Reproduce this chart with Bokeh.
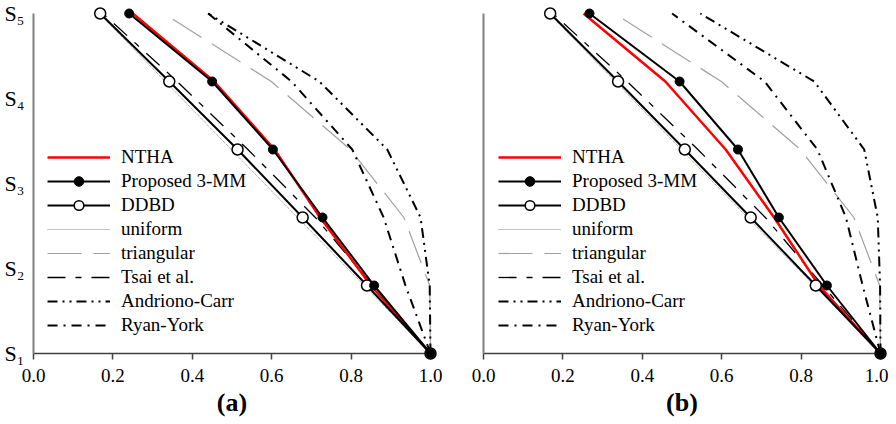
from bokeh.plotting import figure
from bokeh.layouts import row
from bokeh.models import Range1d, FixedTicker, Legend, LegendItem
from bokeh.embed import file_html
from bokeh.resources import INLINE

# ---- data (values listed from S1 at the bottom to the top level) ----
levels = [0, 1, 2, 3, 4, 5]
storey_ticks = [0, 1.25, 2.5, 3.75, 5]
storey_labels = ["S\u2081", "S\u2082", "S\u2083", "S\u2084", "S\u2085"]
x_ticks = [0.0, 0.2, 0.4, 0.6, 0.8, 1.0]
x_tick_labels = ["0.0", "0.2", "0.4", "0.6", "0.8", "1.0"]
panel_labels = ["(a)", "(b)"]
series_names = ["NTHA", "Proposed 3-MM", "DDBD", "uniform", "triangular",
                "Tsai et al.", "Andriono-Carr", "Ryan-York"]

# panel (a)
ntha_a = [1.0, 0.850, 0.722, 0.607, 0.455, 0.250]
prop_a = [1.0, 0.858, 0.728, 0.603, 0.450, 0.241]
ddbd_a = [1.0, 0.840, 0.678, 0.514, 0.342, 0.168]
unif_a = [1.0, 0.833, 0.665, 0.498, 0.332, 0.165]
tri_a = [1.0, 0.998, 0.933, 0.798, 0.599, 0.328]
tsai_a = [1.0, 0.855, 0.710, 0.540, 0.362, 0.175]
andr_a = [1.0, 0.998, 0.975, 0.891, 0.720, 0.440]
ryan_a = [1.0, 0.937, 0.882, 0.803, 0.650, 0.440]

# panel (b)
ntha_b = [1.0, 0.845, 0.732, 0.610, 0.458, 0.252]
prop_b = [1.0, 0.865, 0.744, 0.641, 0.494, 0.267]
ddbd_b = [1.0, 0.837, 0.673, 0.507, 0.339, 0.168]
unif_b = [1.0, 0.833, 0.665, 0.498, 0.332, 0.165]
tri_b = [1.0, 0.998, 0.933, 0.798, 0.599, 0.330]
tsai_b = [1.0, 0.855, 0.710, 0.540, 0.362, 0.175]
andr_b = [1.0, 0.999, 0.993, 0.959, 0.833, 0.546]
ryan_b = [1.0, 0.955, 0.913, 0.841, 0.708, 0.475]

panel_a = [ntha_a, prop_a, ddbd_a, unif_a, tri_a, tsai_a, andr_a, ryan_a]
panel_b = [ntha_b, prop_b, ddbd_b, unif_b, tri_b, tsai_b, andr_b, ryan_b]

# ---- styles ----
FONT = "Liberation Serif"
styles = [
    dict(color="#ff0000", width=2.5, dash="solid", marker=None),
    dict(color="black", width=2.0, dash="solid", marker="filled"),
    dict(color="black", width=2.0, dash="solid", marker="open"),
    dict(color="#888888", width=1.0, dash="1 1", marker=None),
    dict(color="#a0a0a0", width=1.2, dash="34 12", marker=None),
    dict(color="black", width=1.3, dash="18 10 6 10", marker=None),
    dict(color="black", width=2.0, dash="10 5 2 5 2 5", marker=None),
    dict(color="black", width=2.0, dash="10 6 2 6", marker=None),
]
draw_order = [3, 4, 5, 6, 7, 0, 2, 1]


def make_panel(data, label, show_y_labels, b_left, b_right, legend_x):
    p = figure(frame_width=397, frame_height=340,
               x_range=Range1d(0, 1), y_range=Range1d(0, 5),
               output_backend="svg", toolbar_location=None,
               min_border_top=13, min_border_left=b_left,
               min_border_right=b_right, min_border_bottom=0)
    p.grid.visible = False
    p.outline_line_color = None
    p.background_fill_color = "white"

    items = {}
    for i in draw_order:
        st = styles[i]
        rs = []
        r = p.line(data[i], levels, line_color=st["color"],
                   line_width=st["width"], line_dash=st["dash"], level="overlay")
        rs.append(r)
        if st["marker"] == "filled":
            rs.append(p.scatter(data[i], levels, marker="circle", size=9,
                                fill_color="black", line_color="black", level="overlay"))
        elif st["marker"] == "open":
            rs.append(p.scatter(data[i], levels, marker="circle", size=11,
                                fill_color="white", line_color="black",
                                line_width=1.5, level="overlay"))
        items[i] = rs

    legend = Legend(items=[LegendItem(label=series_names[i], renderers=items[i])
                           for i in range(len(series_names))],
                    location=(legend_x, 16), glyph_width=63, glyph_height=24,
                    label_height=24, spacing=0, padding=0, margin=0,
                    label_standoff=11, border_line_alpha=0,
                    background_fill_alpha=0, label_text_font=FONT,
                    label_text_font_size="19px", label_text_color="black")
    p.add_layout(legend)

    xa = p.xaxis[0]
    xa.ticker = FixedTicker(ticks=x_ticks, minor_ticks=[])
    xa.major_label_overrides = {t: s for t, s in zip(x_ticks, x_tick_labels)}
    xa.axis_line_color = "#404040"
    xa.axis_line_width = 1.5
    xa.major_tick_line_color = "#404040"
    xa.major_tick_line_width = 1.5
    xa.major_tick_in = 0
    xa.major_tick_out = 6
    xa.minor_tick_line_color = None
    xa.major_label_standoff = 9
    xa.major_label_text_font = FONT
    xa.major_label_text_font_size = "19px"
    xa.major_label_text_color = "black"
    xa.axis_label = label
    xa.axis_label_text_font = FONT
    xa.axis_label_text_font_style = "bold"
    xa.axis_label_text_font_size = "26px"
    xa.axis_label_text_color = "black"
    xa.axis_label_standoff = 3

    ya = p.yaxis[0]
    ya.axis_line_color = "#808080"
    ya.axis_line_width = 2
    ya.major_tick_line_color = None
    ya.minor_tick_line_color = None
    ya.major_tick_in = 0
    ya.major_tick_out = 0
    if show_y_labels:
        ya.ticker = FixedTicker(ticks=storey_ticks, minor_ticks=[])
        ya.major_label_overrides = {t: s for t, s in zip(storey_ticks, storey_labels)}
        ya.major_label_standoff = 9
        ya.major_label_text_font = FONT
        ya.major_label_text_font_size = "22px"
        ya.major_label_text_color = "black"
    else:
        ya.ticker = FixedTicker(ticks=[], minor_ticks=[])
    return p


pa = make_panel(panel_a, panel_labels[0], True, 33, 12, 14)
pb = make_panel(panel_b, panel_labels[1], False, 41, 8, 15)
layout = row(pa, pb)

open("out.html", "w").write(file_html(layout, INLINE))
